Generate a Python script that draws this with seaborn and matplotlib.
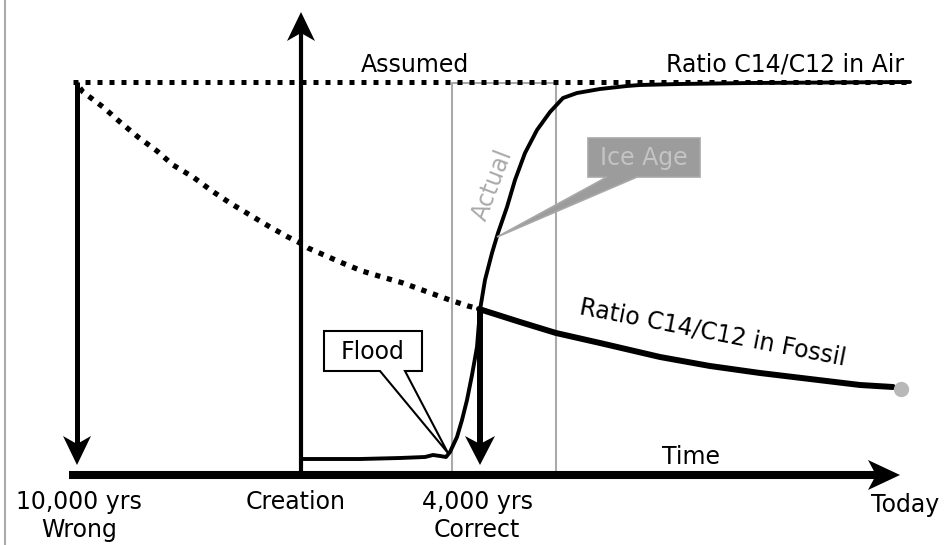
import numpy as np
import seaborn as sns
import matplotlib.pyplot as plt
from matplotlib.patches import Polygon, Rectangle

# all coordinates in picture units (x right, y down)
# assumed C14/C12 ratio in air (flat)
assumed_x = [73, 910]
assumed_y = [82, 82]

# fossil ratio, dotted part (old assumption) and solid part (after 4,000 yrs)
decay_x = [80, 83, 103, 120, 138, 157, 173, 193, 212, 230, 250, 270, 288, 300,
           308, 340, 362, 382, 403, 425, 447, 468, 480]
decay_y = [88, 92, 107, 122, 137, 151, 165, 177, 191, 203, 215, 227, 237, 243,
           248, 262, 271, 277, 283, 291, 299, 306, 309]
fossil_x = [479, 520, 556, 600, 660, 710, 760, 810, 860, 893]
fossil_y = [309, 322, 333, 343, 357, 366, 373, 379, 385, 387]

# actual C14/C12 in air
actual_x = [303, 360, 400, 425, 433, 440, 446, 450, 457, 462, 467, 472, 477,
            480, 485, 492, 498, 507, 515, 525, 537, 550, 563, 577, 600, 627,
            640, 680, 750, 910]
actual_y = [459, 459, 458, 457, 455, 456, 457, 452, 437, 420, 400, 375, 347,
            310, 280, 253, 233, 207, 180, 153, 130, 112, 98, 93, 89, 86,
            85, 84, 83, 82]

# arrows: start x, start y, tip x, tip y, line width
arrow_x0 = [77, 301, 480, 69]
arrow_y0 = [82, 475, 309, 475]
arrow_x1 = [77, 301, 480, 900]
arrow_y1 = [465, 12, 465, 475]
arrow_lw = [3.6, 3.0, 4.3, 5.8]

tick_labels = ["10,000 yrs\nWrong", "Creation", "4,000 yrs\nCorrect"]
tick_x = [79, 296, 477]

sns.set_theme(style="white")
plt.rcParams['font.family'] = ['DejaVu Sans']
plt.rcParams['text.color'] = 'black'

fig = plt.figure(figsize=(9.47, 5.45), dpi=100)
ax = fig.add_axes([0, 0, 1, 1])
ax.set_xlim(0, 947)
ax.set_ylim(545, 0)
ax.axis("off")

FS = 17

# left border
ax.plot([5, 5], [0, 545], color="#aaaaaa", lw=1.5)

# ice age window
ax.add_patch(Rectangle((452, 83), 104, 390, fill=False, ec="#aaaaaa", lw=1.5, zorder=2))

# curves
sns.lineplot(x=actual_x, y=actual_y, ax=ax, color="black", lw=2.8, sort=False,
             estimator=None, zorder=3, solid_capstyle="round", solid_joinstyle="round")
sns.lineplot(x=assumed_x, y=assumed_y, ax=ax, color="black", lw=3.6, sort=False,
             estimator=None, zorder=4, linestyle=(0, (1, 1.4)), dash_capstyle="butt")
sns.lineplot(x=decay_x, y=decay_y, ax=ax, color="black", lw=3.8, sort=False,
             estimator=None, zorder=4, linestyle=(0, (1, 1.3)), dash_capstyle="butt")
sns.lineplot(x=fossil_x, y=fossil_y, ax=ax, color="black", lw=4.3, sort=False,
             estimator=None, zorder=4, solid_capstyle="round", solid_joinstyle="round")
ax.plot(fossil_x[-1] + 8, fossil_y[-1] + 2, "o", ms=10, color="#b8b8b8", zorder=5)


def draw_arrow(x0, y0, x1, y1, lw, head_len=30, head_w=14, notch=8):
    p0 = np.array([x0, y0], float)
    tip = np.array([x1, y1], float)
    u = (tip - p0) / np.linalg.norm(tip - p0)
    n = np.array([-u[1], u[0]])
    back = tip - u * head_len
    notch_pt = back + u * notch
    ax.plot([p0[0], notch_pt[0]], [p0[1], notch_pt[1]], color="black", lw=lw,
            solid_capstyle="butt", zorder=6)
    head = [tip, back + n * head_w, notch_pt, back - n * head_w]
    ax.add_patch(Polygon(head, closed=True, color="black", lw=0, zorder=6))


for i in range(len(arrow_x0)):
    hw = 15 if i >= 2 else 14
    hl = 32 if i == 3 else 29
    draw_arrow(arrow_x0[i], arrow_y0[i], arrow_x1[i], arrow_y1[i], arrow_lw[i],
               head_len=hl, head_w=hw)

# callouts
flood = [(324, 331), (422, 331), (422, 371), (405, 371), (448, 453), (380, 371), (324, 371)]
ax.add_patch(Polygon(flood, closed=True, fc="white", ec="black", lw=1.5, zorder=7))
ax.text(373, 352, "Flood", fontsize=FS, ha="center", va="center", zorder=8)

ice = [(588, 138), (700, 138), (700, 177), (637, 177), (497, 237), (607, 177), (588, 177)]
ax.add_patch(Polygon(ice, closed=True, fc="#9c9c9c", ec="#a8a8a8", lw=1.2, zorder=7))
ax.text(644, 158, "Ice Age", fontsize=FS, ha="center", va="center", color="#c4c4c4", zorder=8)

# labels
ax.text(415, 72, "Assumed", fontsize=FS, ha="center", va="baseline")
ax.text(904, 72, "Ratio C14/C12 in Air", fontsize=FS, ha="right", va="baseline")
ax.text(493, 185, "Actual", fontsize=FS, ha="center", va="center", rotation=69,
        color="#aaaaaa")
ax.text(713, 333, "Ratio C14/C12 in Fossil", fontsize=FS, ha="center", va="center",
        rotation=-11, rotation_mode="anchor")
ax.text(691, 464, "Time", fontsize=FS, ha="center", va="baseline")
ax.text(905, 512, "Today", fontsize=FS, ha="center", va="baseline")
for lab, x in zip(tick_labels, tick_x):
    ax.text(x, 490, lab, fontsize=FS, ha="center", va="top", linespacing=1.2)

fig.savefig("out.png", dpi=100)
